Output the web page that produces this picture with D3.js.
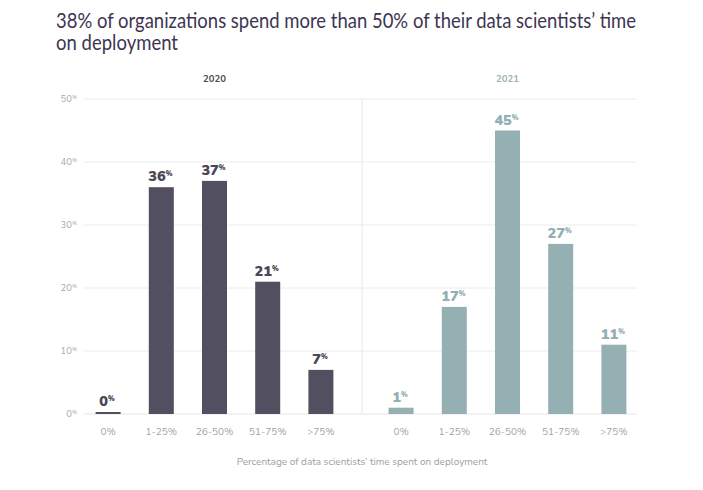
<!DOCTYPE html>
<html><head><meta charset="utf-8">
<script src="https://cdn.jsdelivr.net/npm/d3@7"></script>
<style>body{margin:0;background:#fff;} svg{display:block;}</style>
</head><body>
<svg id="c" width="703" height="490"></svg>
<script>
const categories = ["0%", "1-25%", "26-50%", "51-75%", ">75%"];
const years = ["2020", "2021"];
const values2020 = [0, 36, 37, 21, 7];
const values2021 = [1, 17, 45, 27, 11];
const yTicks = [0, 10, 20, 30, 40, 50];
const titleLines = ["38% of organizations spend more than 50% of their data scientists\u2019 time", "on deployment"];
const xAxisTitle = "Percentage of data scientists\u2019 time spent on deployment";

const colors = {"2020": "#524f60", "2021": "#95b0b3"};
const labelColors = {"2020": "#4a4757", "2021": "#93afb2"};
const font = "Nunito, Lato, 'Open Sans', sans-serif";

const svg = d3.select("#c");
const y = d3.scaleLinear().domain([0, 50]).range([414, 99]);
const gridX0 = 84, gridX1 = 637, divX = 362;

// title
svg.append("g").selectAll("text").data(titleLines).join("text")
  .attr("x", 56).attr("y", (d, i) => 28 + i * 22)
  .attr("fill", "#3d3552").attr("font-family", "Lato, sans-serif").attr("font-size", 20.5)
  .attr("textLength", (d, i) => i === 0 ? 580 : 122).attr("lengthAdjust", "spacingAndGlyphs")
  .text(d => d);

// gridlines
svg.append("g").selectAll("line").data(yTicks).join("line")
  .attr("x1", gridX0).attr("x2", gridX1)
  .attr("y1", d => y(d)).attr("y2", d => y(d))
  .attr("stroke", d => d === 0 ? "#e6e6e6" : "#ececec").attr("stroke-width", 1);

// divider
svg.append("line").attr("x1", divX).attr("x2", divX).attr("y1", y(50)).attr("y2", y(0))
  .attr("stroke", "#e6e6e6");

// y tick labels
const yt = svg.append("g").selectAll("text").data(yTicks).join("text")
  .attr("x", 77).attr("y", d => y(d) + 3)
  .attr("text-anchor", "end").attr("fill", "#aaa").attr("font-family", font).attr("font-size", 9.5);
yt.append("tspan").text(d => d);
yt.append("tspan").attr("font-size", 5.5).attr("dy", -3).text("%");

const panels = [
  {year: "2020", values: values2020, range: [81.5, 347.5]},
  {year: "2021", values: values2021, range: [374.5, 640.5]}
];

panels.forEach(p => {
  const x = d3.scaleBand().domain(categories).range(p.range).paddingInner(0.53).paddingOuter(0.265);
  const g = svg.append("g");
  const data = categories.map((c, i) => ({c, v: p.values[i]}));
  g.selectAll("rect").data(data).join("rect")
    .attr("x", d => x(d.c)).attr("width", x.bandwidth())
    .attr("y", d => Math.min(y(d.v), y(0) - 2)).attr("height", d => Math.max(y(0) - y(d.v), 2))
    .attr("fill", colors[p.year]);
  const lab = g.selectAll("text.v").data(data).join("text").attr("class", "v")
    .attr("x", d => x(d.c) + x.bandwidth() / 2 - 1).attr("y", d => Math.min(y(d.v), y(0) - 2) - 6)
    .attr("text-anchor", "middle").attr("fill", labelColors[p.year])
    .attr("font-family", font).attr("font-weight", 900).attr("font-size", 14.5);
  lab.append("tspan").text(d => d.v);
  lab.append("tspan").attr("font-size", 7).attr("dy", -5).text("%");
  // category labels
  g.selectAll("text.c").data(data).join("text").attr("class", "c")
    .attr("x", d => x(d.c) + x.bandwidth() / 2).attr("y", 435)
    .attr("text-anchor", "middle").attr("fill", "#a3a3a3")
    .attr("font-family", font).attr("font-size", 10).text(d => d.c);
  // year label
  g.append("text").attr("x", (p.range[0] + p.range[1]) / 2).attr("y", 82)
    .attr("text-anchor", "middle").attr("fill", p.year === "2020" ? "#4a4757" : "#9ab3b6")
    .attr("font-family", font).attr("font-weight", 700).attr("font-size", 9.5).text(p.year);
});

svg.append("text").attr("x", divX).attr("y", 465).attr("text-anchor", "middle")
  .attr("fill", "#a0a0a0").attr("font-family", font).attr("font-size", 10).text(xAxisTitle);
</script>
</body></html>
